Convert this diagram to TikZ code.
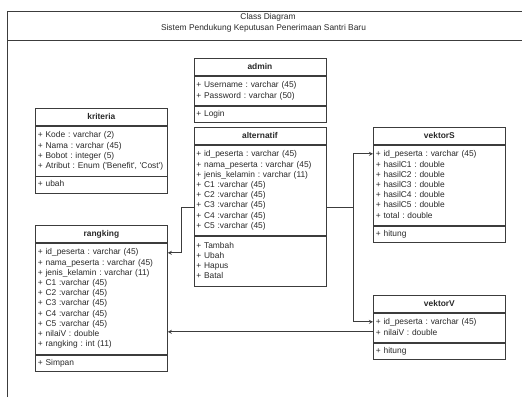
\documentclass[tikz,border=0pt]{standalone}
\usepackage{fontspec}
\setmainfont{Liberation Sans}
\usetikzlibrary{positioning,calc}
\definecolor{linecol}{RGB}{60,60,60}
\definecolor{textcol}{RGB}{40,40,40}
\newcommand{\umlfont}{\fontsize{8.4}{10.2}\selectfont\frenchspacing}

\begin{document}
\begin{tikzpicture}[
    x=1pt, y=-1pt,
    ctitle/.style={rectangle, draw=linecol, line width=0.8pt, anchor=north west, minimum height=17pt, text width=127pt, inner xsep=2.5pt, inner ysep=0pt, align=center, font=\umlfont\bfseries, text=textcol},
    cpart/.style={rectangle, draw=linecol, line width=0.8pt, text width=127pt, inner xsep=2.5pt, inner ysep=4.5pt, align=left, font=\umlfont, text=textcol, execute at begin node=\strut, execute at end node=\strut},
    cop/.style={cpart, inner ysep=3pt},
    arrow/.style={->, >=stealth, draw=linecol, line width=0.8pt}
]
\useasboundingbox (0,0) rectangle (522,397);

% frame
\draw[linecol, line width=0.8pt] (7,397) -- (7,11) -- (522,11);
\draw[linecol, line width=0.8pt] (7,40) -- (522,40);
\node[font=\umlfont, text=textcol] (dtitle) at (268,17.5) {Class Diagram};
\node[font=\umlfont, text=textcol] (dsub) at (263.5,28.5) {Sistem Pendukung Keputusan Penerimaan Santri Baru};

% admin
\node[ctitle] (admin) at (193.5,58) {admin};
\node[cpart, below=0pt of admin] (admin-a) {+ Username : varchar (45)\\+ Password : varchar (50)};
\node[cop, below=0pt of admin-a] (admin-m) {+ Login};

% alternatif
\node[ctitle] (alt) at (193.5,127) {alternatif};
\node[cpart, below=0pt of alt] (alt-a) {+ id\_peserta : varchar (45)\\+ nama\_peserta : varchar (45)\\+ jenis\_kelamin : varchar (11)\\+ C1 :varchar (45)\\+ C2 :varchar (45)\\+ C3 :varchar (45)\\+ C4 :varchar (45)\\+ C5 :varchar (45)};
\node[cpart, below=0pt of alt-a] (alt-m) {+ Tambah\\+ Ubah\\+ Hapus\\+ Batal};

% kriteria
\node[ctitle] (krit) at (35,108) {kriteria};
\node[cpart, below=0pt of krit] (krit-a) {+ Kode : varchar (2)\\+ Nama : varchar (45)\\+ Bobot : integer (5)\\+ Atribut : Enum (\textquotesingle Benefit\textquotesingle, \textquotesingle Cost\textquotesingle)};
\node[cop, below=0pt of krit-a] (krit-m) {+ ubah};

% rangking
\node[ctitle] (rang) at (35,225) {rangking};
\node[cpart, below=0pt of rang] (rang-a) {+ id\_peserta : varchar (45)\\+ nama\_peserta : varchar (45)\\+ jenis\_kelamin : varchar (11)\\+ C1 :varchar (45)\\+ C2 :varchar (45)\\+ C3 :varchar (45)\\+ C4 :varchar (45)\\+ C5 :varchar (45)\\+ nilaiV : double\\+ rangking : int (11)};
\node[cop, below=0pt of rang-a] (rang-m) {+ Simpan};

% vektorS
\node[ctitle] (vs) at (373,127) {vektorS};
\node[cpart, below=0pt of vs] (vs-a) {+ id\_peserta : varchar (45)\\+ hasilC1 : double\\+ hasilC2 : double\\+ hasilC3 : double\\+ hasilC4 : double\\+ hasilC5 : double\\+ total : double};
\node[cop, below=0pt of vs-a] (vs-m) {+ hitung};

% vektorV
\node[ctitle] (vv) at (373,295) {vektorV};
\node[cpart, below=0pt of vv] (vv-a) {+ id\_peserta : varchar (45)\\+ nilaiV : double};
\node[cop, below=0pt of vv-a] (vv-m) {+ hitung};

% connectors
\coordinate (altL) at ($(alt.north west)!0.5!(alt-m.south west)$);
\coordinate (altR) at ($(alt.north east)!0.5!(alt-m.south east)$);
\coordinate (vvN) at ($(vv-a.north west)+(0,19)$);
\draw[arrow] (altL) -- ++(-12,0) |- ($(rang-a.north east)+(0,10)$);
\draw[arrow] (altR) -- ++(27,0) |- ($(vs-a.north west)+(0,9)$);
\draw[arrow] (altR) -- ++(27,0) |- ($(vv-a.north west)+(0,9)$);
\draw[arrow] (vvN) -- (vvN -| rang-a.east);

\end{tikzpicture}
\end{document}
